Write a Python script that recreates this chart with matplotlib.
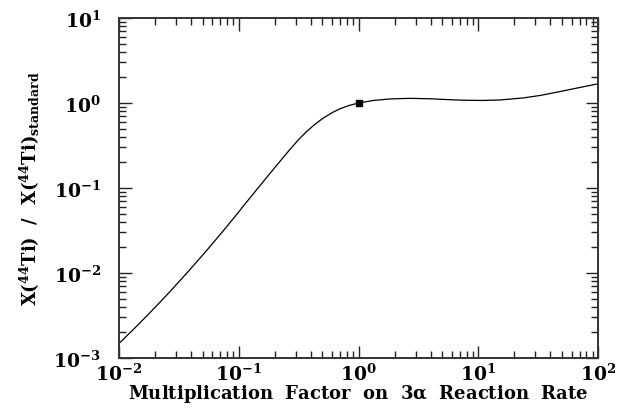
import numpy as np
import matplotlib
matplotlib.use('Agg')
import matplotlib.pyplot as plt
from matplotlib.ticker import LogLocator, NullFormatter

# values (log-log axes)
rate_factor = [0.01, 0.01377, 0.01897, 0.02618, 0.03606, 0.04656, 0.05715, 0.07413,
               0.09616, 0.1202, 0.1603, 0.1945, 0.2679, 0.3162, 0.3690, 0.4365, 0.5082,
               0.6026, 0.6998, 0.8318, 1.0, 1.334, 1.832, 2.692, 3.954, 5.623, 7.499,
               10.72, 15.14, 23.77, 33.11, 45.08, 66.07, 100.0]
ti44_ratio = [0.001479, 0.002301, 0.003639, 0.005875, 0.009638, 0.01449, 0.02023, 0.03126,
              0.04887, 0.07244, 0.1191, 0.1660, 0.2851, 0.3715, 0.4624, 0.5675, 0.6653,
              0.7709, 0.8551, 0.9354, 1.0, 1.072, 1.117, 1.135, 1.122, 1.096, 1.079,
              1.072, 1.086, 1.148, 1.230, 1.340, 1.496, 1.683]
standard_point = ([1.0], [1.0])

plt.rcParams['font.family'] = ['DejaVu Serif']
plt.rcParams['font.weight'] = 'bold'
plt.rcParams['axes.labelweight'] = 'bold'
plt.rcParams['mathtext.fontset'] = 'dejavuserif'
plt.rcParams['mathtext.default'] = 'bf'

fig = plt.figure(figsize=(6.23, 4.14), dpi=100)
ax = fig.add_axes([0.191, 0.133, 0.769, 0.821])

ax.plot(rate_factor, ti44_ratio, color='black', lw=0.9)
ax.plot(*standard_point, 's', color='black', ms=4.5)

ax.set_xscale('log')
ax.set_yscale('log')
ax.set_xlim(1e-2, 1e2)
ax.set_ylim(1e-3, 1e1)

for s in ax.spines.values():
    s.set_linewidth(1.4)
    s.set_color('#333333')

ax.xaxis.set_major_locator(LogLocator(base=10, numticks=10))
ax.yaxis.set_major_locator(LogLocator(base=10, numticks=10))
ax.xaxis.set_minor_locator(LogLocator(base=10, subs=np.arange(2, 10), numticks=20))
ax.yaxis.set_minor_locator(LogLocator(base=10, subs=np.arange(2, 10), numticks=20))
ax.xaxis.set_minor_formatter(NullFormatter())
ax.yaxis.set_minor_formatter(NullFormatter())

ax.tick_params(which='both', direction='in', top=True, right=True, width=1.0, color='#222222')
ax.tick_params(which='major', length=9)
ax.tick_params(which='minor', length=5)
ax.tick_params(axis='x', which='major', labelsize=13.5, pad=3)
ax.tick_params(axis='y', which='major', labelsize=13.5, pad=13)

ax.set_xlabel(r'Multiplication  Factor  on  3$\alpha$  Reaction  Rate', fontsize=13, labelpad=-1)
ax.set_ylabel(r'X($^{44}$Ti)  /  X($^{44}$Ti)$_{\mathbf{standard}}$', fontsize=13, labelpad=8)

fig.savefig('out.png', dpi=100)
